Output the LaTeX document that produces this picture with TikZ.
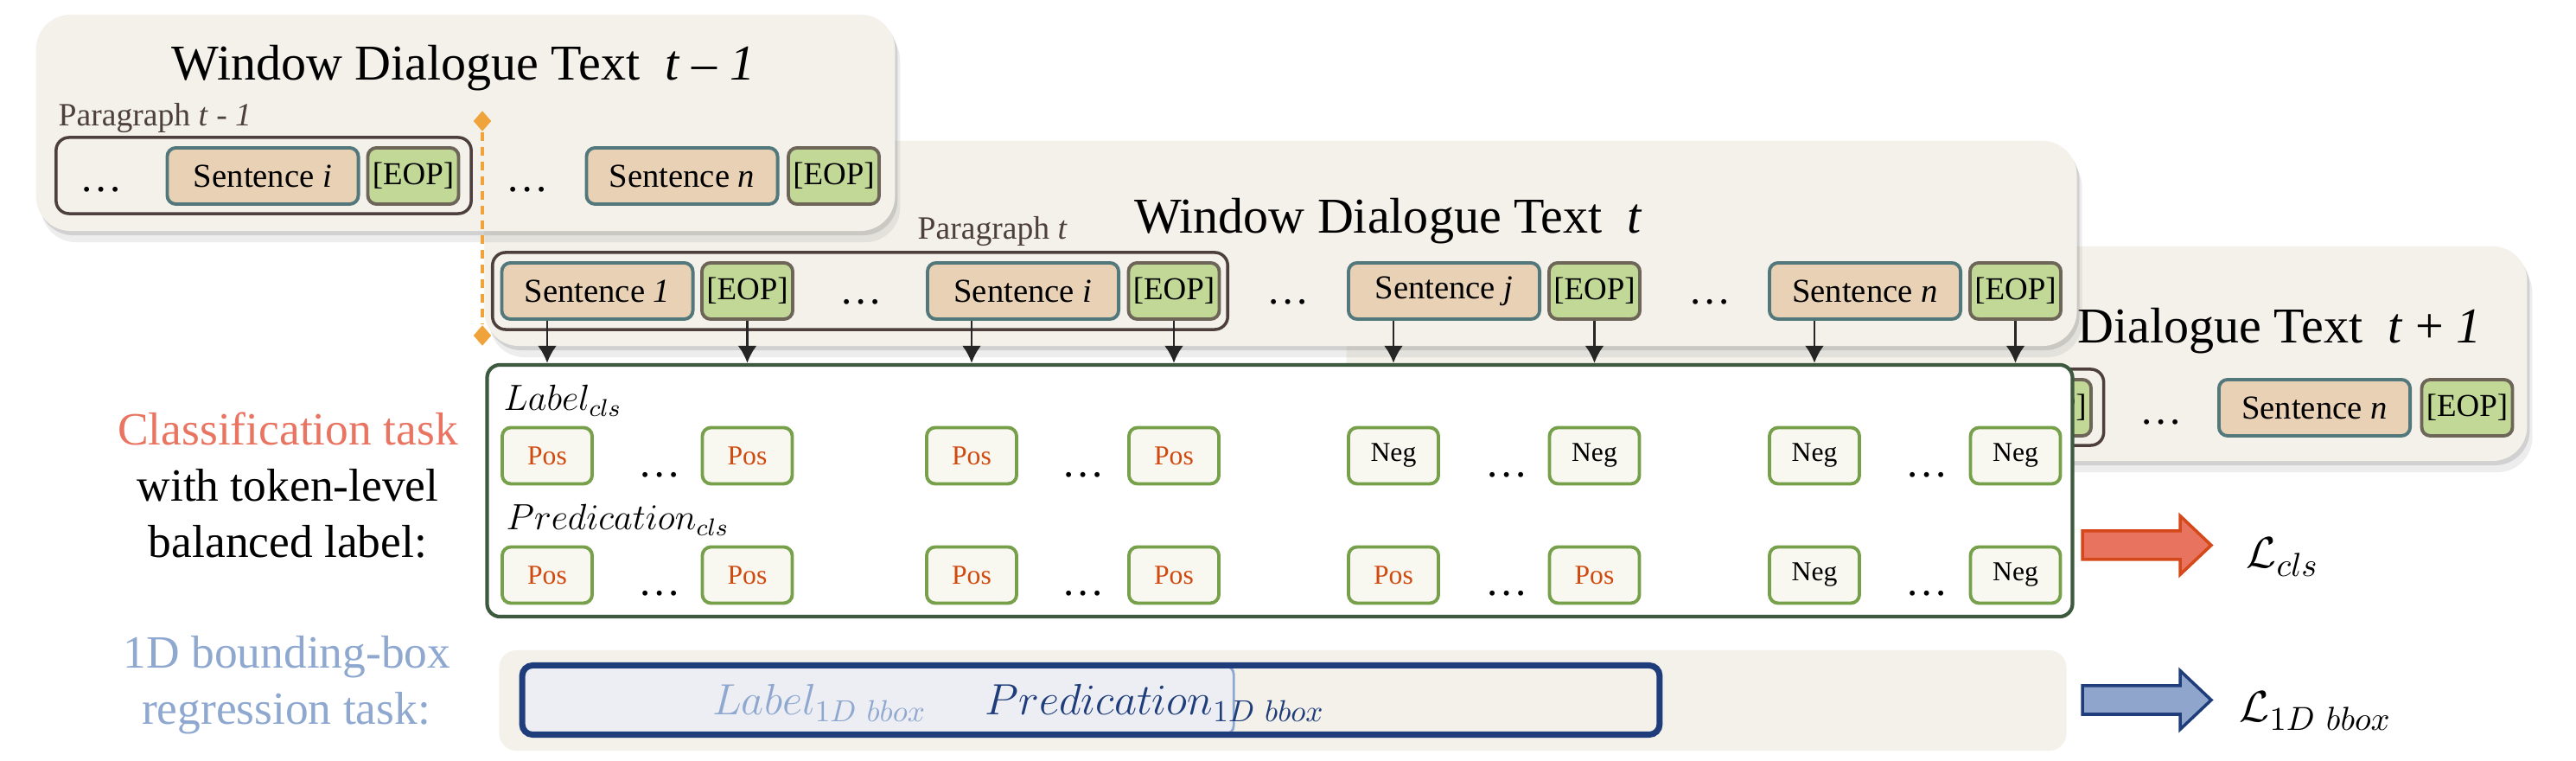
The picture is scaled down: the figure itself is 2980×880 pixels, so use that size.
\documentclass[tikz,border=0pt]{standalone}
\usepackage{fontspec}
\setmainfont{Liberation Serif}
\usepackage{amsmath}
\usepackage{tikz}
\usetikzlibrary{shapes.geometric,arrows.meta,shadows}
\definecolor{paper}{HTML}{F3F1EA}
\definecolor{sentfill}{HTML}{E8D1B5}
\definecolor{sentline}{HTML}{52787C}
\definecolor{eopfill}{HTML}{C2D897}
\definecolor{eopline}{HTML}{6E6559}
\definecolor{paraline}{HTML}{4E3F3F}
\definecolor{clsline}{HTML}{3E5A3E}
\definecolor{tagline}{HTML}{76A04A}
\definecolor{tagfill}{HTML}{F8F7F0}
\definecolor{postext}{HTML}{D04A10}
\definecolor{clstext}{HTML}{E87461}
\definecolor{boxtext}{HTML}{8FA8D0}
\definecolor{navy}{HTML}{1F3D7A}
\definecolor{boxfill}{HTML}{ECEEF4}
\definecolor{redfill}{HTML}{E8735E}
\definecolor{redline}{HTML}{D4481A}
\definecolor{bluefill}{HTML}{8FA5CC}
\definecolor{cut}{HTML}{F0A33A}
\tikzstyle{win}=[fill=paper,rounded corners=0.4cm,inner sep=0pt,
  drop shadow={shadow xshift=0.03cm,shadow yshift=-0.05cm,opacity=0.25},
  drop shadow={shadow xshift=0.06cm,shadow yshift=-0.13cm,opacity=0.14}]
\tikzstyle{wintitle}=[anchor=base,inner sep=0pt,font=\fontsize{16.5}{20}\selectfont]
\tikzstyle{paratext}=[anchor=base west,inner sep=0pt,text=paraline,font=\fontsize{10.7}{13}\selectfont]
\tikzstyle{para}=[draw=paraline,line width=1pt,rounded corners=0.15cm,inner sep=0pt]
\tikzstyle{sent}=[draw=sentline,fill=sentfill,line width=1.1pt,rounded corners=0.1cm,inner sep=0pt,
  minimum width=2.21cm,minimum height=0.65cm,font=\fontsize{11}{13}\selectfont]
\tikzstyle{eop}=[draw=eopline,fill=eopfill,line width=1.1pt,rounded corners=0.1cm,inner sep=0pt,
  minimum width=1.05cm,minimum height=0.65cm,font=\fontsize{10.5}{12}\selectfont]
\tikzstyle{cell}=[draw=tagline,fill=tagfill,line width=1.1pt,rounded corners=0.1cm,inner sep=0pt,
  minimum width=1.04cm,minimum height=0.65cm,font=\fontsize{9}{11}\selectfont]
\tikzstyle{postag}=[cell,text=postext]
\tikzstyle{negtag}=[cell,text=black]
\tikzstyle{etc}=[anchor=base,inner sep=0pt,font=\fontsize{14}{15}\selectfont]
\tikzstyle{task}=[anchor=base,inner sep=0pt,font=\fontsize{15.2}{18}\selectfont]
\tikzstyle{mathtext}=[anchor=base west,inner sep=0pt,font=\fontsize{11.5}{13}\selectfont]
\tikzstyle{arr}=[-{Latex[length=0.2cm,width=0.22cm]},line width=0.8pt,black!85]
\tikzstyle{cutline}=[cut,line width=1pt,dash pattern=on 0.1cm off 0.07cm]
\tikzstyle{cutmark}=[diamond,fill=cut,inner sep=0pt,minimum width=0.21cm,minimum height=0.24cm]

\begin{document}
\begin{tikzpicture}[x=0.01cm,y=-0.01cm]
    \useasboundingbox [fill=white] (0,0) rectangle (2980,880);

    \node [win,minimum width=13.65cm,minimum height=2.48cm] (win2) at (2240.5,409) {};
    \node [wintitle,anchor=base east] (title2) at (2871,397) {Window Dialogue Text \ \textit{t} + \textit{1}};
    \node [para,minimum width=4.63cm,minimum height=0.88cm] (para2) at (2202,471) {};
    \node [eop] (e2a) at (2366.5,471.5) {[EOP]};
    \node [etc] (d2a) at (2500,491) {…};
    \node [sent] (s2b) at (2677.5,471.5) {Sentence \textit{n}};
    \node [eop] (e2b) at (2854,471.5) {[EOP]};

    \node [win,minimum width=18.41cm,minimum height=2.37cm] (win1) at (1481.5,281.5) {};
    \node [wintitle] (title1) at (1606,270) {Window Dialogue Text \ \textit{t}};
    \node [paratext] (plab1) at (1061,277) {Paragraph \textit{t}};
    \node [para,minimum width=8.5cm,minimum height=0.89cm] (para1) at (995,336.5) {};
    \node [sent] (s1a) at (691,336.5) {Sentence \textit{1}};
    \node [eop] (e1a) at (864.5,336.5) {[EOP]};
    \node [etc] (d1a) at (996,352) {…};
    \node [sent] (s1b) at (1183.5,336.5) {Sentence \textit{i}};
    \node [eop] (e1b) at (1358,336.5) {[EOP]};
    \node [etc] (d1b) at (1490,352) {…};
    \node [sent] (s1c) at (1670.5,336.5) {Sentence \textit{j}};
    \node [eop] (e1c) at (1844.5,336.5) {[EOP]};
    \node [etc] (d1c) at (1978,352) {…};
    \node [sent] (s1d) at (2157.5,336.5) {Sentence \textit{n}};
    \node [eop] (e1d) at (2331.5,336.5) {[EOP]};

    \node [win,minimum width=9.93cm,minimum height=2.5cm] (win0) at (538.5,142) {};
    \node [wintitle] (title0) at (536,93) {Window Dialogue Text \ \textit{t} -- \textit{1}};
    \node [paratext] (plab0) at (67,146) {Paragraph \textit{t} - \textit{1}};
    \node [para,minimum width=4.8cm,minimum height=0.88cm] (para0) at (305,203) {};
    \node [etc] (d0a) at (117,222) {…};
    \node [sent] (s0a) at (304,203.5) {Sentence \textit{i}};
    \node [eop] (e0a) at (478,203.5) {[EOP]};
    \node [etc] (d0b) at (610,222) {…};
    \node [sent] (s0b) at (789,203.5) {Sentence \textit{n}};
    \node [eop] (e0b) at (964.5,203.5) {[EOP]};

    \node [draw=clsline,fill=white,line width=1.2pt,rounded corners=0.15cm,minimum width=18.33cm,minimum height=2.91cm] (cls) at (1480.5,567.5) {};
    \node [mathtext] (labcls) at (582,475) {$Label_{cls}$};
    \node [mathtext] (predcls) at (585,613) {$Predication_{cls}$};

    \node [postag] (a1) at (633,527) {Pos};
    \node [etc] (da1) at (763,552) {…};
    \node [postag] (a2) at (864.5,527) {Pos};
    \node [postag] (a3) at (1124,527) {Pos};
    \node [etc] (da2) at (1253,552) {…};
    \node [postag] (a4) at (1358,527) {Pos};
    \node [negtag] (a5) at (1612,527) {Neg};
    \node [etc] (da3) at (1743,552) {…};
    \node [negtag] (a6) at (1844.5,527) {Neg};
    \node [negtag] (a7) at (2099,527) {Neg};
    \node [etc] (da4) at (2229,552) {…};
    \node [negtag] (a8) at (2331.5,527) {Neg};

    \node [postag] (b1) at (633,665) {Pos};
    \node [etc] (db1) at (763,689) {…};
    \node [postag] (b2) at (864.5,665) {Pos};
    \node [postag] (b3) at (1124,665) {Pos};
    \node [etc] (db2) at (1253,689) {…};
    \node [postag] (b4) at (1358,665) {Pos};
    \node [postag] (b5) at (1612,665) {Pos};
    \node [etc] (db3) at (1743,689) {…};
    \node [postag] (b6) at (1844.5,665) {Pos};
    \node [negtag] (b7) at (2099,665) {Neg};
    \node [etc] (db4) at (2229,689) {…};
    \node [negtag] (b8) at (2331.5,665) {Neg};

    \draw [arr] (s1a.south -| a1) -- (a1 |- cls.north);
    \draw [arr] (e1a.south -| a2) -- (a2 |- cls.north);
    \draw [arr] (s1b.south -| a3) -- (a3 |- cls.north);
    \draw [arr] (e1b.south -| a4) -- (a4 |- cls.north);
    \draw [arr] (s1c.south -| a5) -- (a5 |- cls.north);
    \draw [arr] (e1c.south -| a6) -- (a6 |- cls.north);
    \draw [arr] (s1d.south -| a7) -- (a7 |- cls.north);
    \draw [arr] (e1d.south -| a8) -- (a8 |- cls.north);

    \node [task,text=clstext] (task0) at (333,515) {Classification task};
    \node [task] (task1) at (333,580) {with token-level};
    \node [task] (task2) at (333,645) {balanced label:};
    \node [task,text=boxtext] (reg0) at (332,773) {1D bounding-box};
    \node [task,text=boxtext] (reg1) at (331,838) {regression task:};

    \node [fill=paper,rounded corners=0.2cm,inner sep=0pt,minimum width=18.12cm,minimum height=1.16cm] (bboxbg) at (1484,810) {};
    \node [draw=boxtext,fill=boxfill,line width=0.8pt,rounded corners=0.1cm,inner sep=0pt,minimum width=8.22cm,minimum height=0.79cm] (bboxlab) at (1016,809.5) {};
    \node [draw=navy,line width=2pt,rounded corners=0.12cm,inner sep=0pt,minimum width=13.15cm,minimum height=0.8cm] (bboxframe) at (1262,809.5) {};
    \node [anchor=base,inner sep=0pt,text=boxtext,font=\fontsize{13.8}{15}\selectfont] (lab1d) at (948,827) {$Label_{1D\ bbox}$};
    \node [anchor=base,inner sep=0pt,text=navy,font=\fontsize{13.8}{15}\selectfont] (pred1d) at (1336,827) {$Predication_{1D\ bbox}$};

    \coordinate (rtail) at (2408,630.5);
    \coordinate (btail) at (2408,809.5);
    \filldraw [fill=redfill,draw=redline,line width=1pt,shift={(rtail)}] (1,-16.5) -- (114,-16.5) -- (114,-34) -- (150,0) -- (114,34) -- (114,16.5) -- (1,16.5) -- cycle;
    \filldraw [fill=bluefill,draw=navy,line width=1pt,shift={(btail)}] (1,-16.5) -- (114,-16.5) -- (114,-34) -- (150,0) -- (114,34) -- (114,16.5) -- (1,16.5) -- cycle;
    \node [anchor=base west,inner sep=0pt,font=\fontsize{15}{18}\selectfont] (losscls) at (2598,657) {$\mathcal{L}_{cls}$};
    \node [anchor=base west,inner sep=0pt,font=\fontsize{15}{18}\selectfont] (lossbbox) at (2590,835) {$\mathcal{L}_{1D\ bbox}$};

    \node [cutmark] (cuttop) at (558,140) {};
    \node [cutmark] (cutbot) at (558,388) {};
    \draw [cutline] (cuttop) -- (cutbot);
\end{tikzpicture}
\end{document}
